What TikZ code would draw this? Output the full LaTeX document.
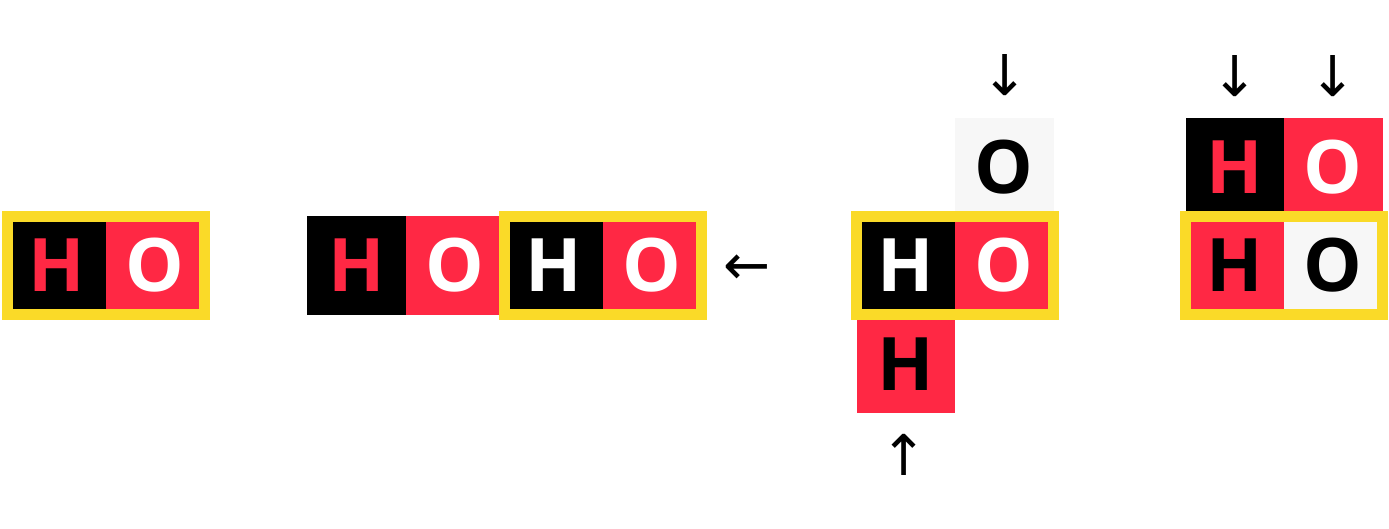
\documentclass[tikz,border=0pt]{standalone}
\usepackage{fontspec}
\newfontfamily\cellfont{Open Sans}
\newfontfamily\arrowfont{DejaVu Sans}
\usetikzlibrary{matrix}
\definecolor{hored}{RGB}{255,40,68}
\definecolor{hoyellow}{RGB}{250,218,40}
\definecolor{hogray}{RGB}{247,247,247}

\begin{document}
\begin{tikzpicture}[
        X/.style={minimum size=9.85mm, inner sep=0pt, outer sep=0pt, anchor=center,
            font=\cellfont\bfseries\fontsize{21}{21}\selectfont},
        BR/.style={X, fill=black, text=hored},
        BW/.style={X, fill=black, text=white},
        RW/.style={X, fill=hored, text=white},
        RK/.style={X, fill=hored, text=black},
        GK/.style={X, fill=hogray, text=black},
        frame/.style={draw=hoyellow, line width=1.1mm},
        arr/.style={font=\arrowfont\fontsize{16}{16}\selectfont, inner sep=0pt},
        mymatrix/.style={matrix of nodes, row sep=0pt, column sep=0pt, inner sep=0pt}
    ]

    \useasboundingbox (0,0) rectangle (13.89,5.28);

    \matrix (one) at (1.06,2.625) [mymatrix]{
        |[BR]|H&|[RW]|O\\
    };

    \matrix (two) at (5.04,2.625) [mymatrix]{
        |[BR]|H&|[RW]|O&|[BW]|H&|[RW]|O\\
    };

    \matrix (three) at (9.55,2.625) [mymatrix]{
        &|[GK]|O\\
        |[BW]|H&|[RW]|O\\
        |[RK]|H&\\
    };

    \matrix (four) at (12.84,3.12) [mymatrix]{
        |[BR]|H&|[RW]|O\\
        |[RK]|H&|[GK]|O\\
    };

    % yellow frames
    \draw[frame] (one-1-1.north west) rectangle (one-1-2.south east);
    \draw[frame] (two-1-3.north west) rectangle (two-1-4.south east);
    \draw[frame] (three-2-1.north west) rectangle (three-2-2.south east);
    \draw[frame] (four-2-1.north west) rectangle (four-2-2.south east);

    % arrows
    \node[arr] (left) at (7.47,2.58) {←};
    \node[arr] (downO) at (10.05,4.53) {↓};
    \node[arr] (upH) at (9.04,0.73) {↑};
    \node[arr] (downH) at (12.35,4.52) {↓};
    \node[arr] (downO2) at (13.33,4.52) {↓};
\end{tikzpicture}
\end{document}
